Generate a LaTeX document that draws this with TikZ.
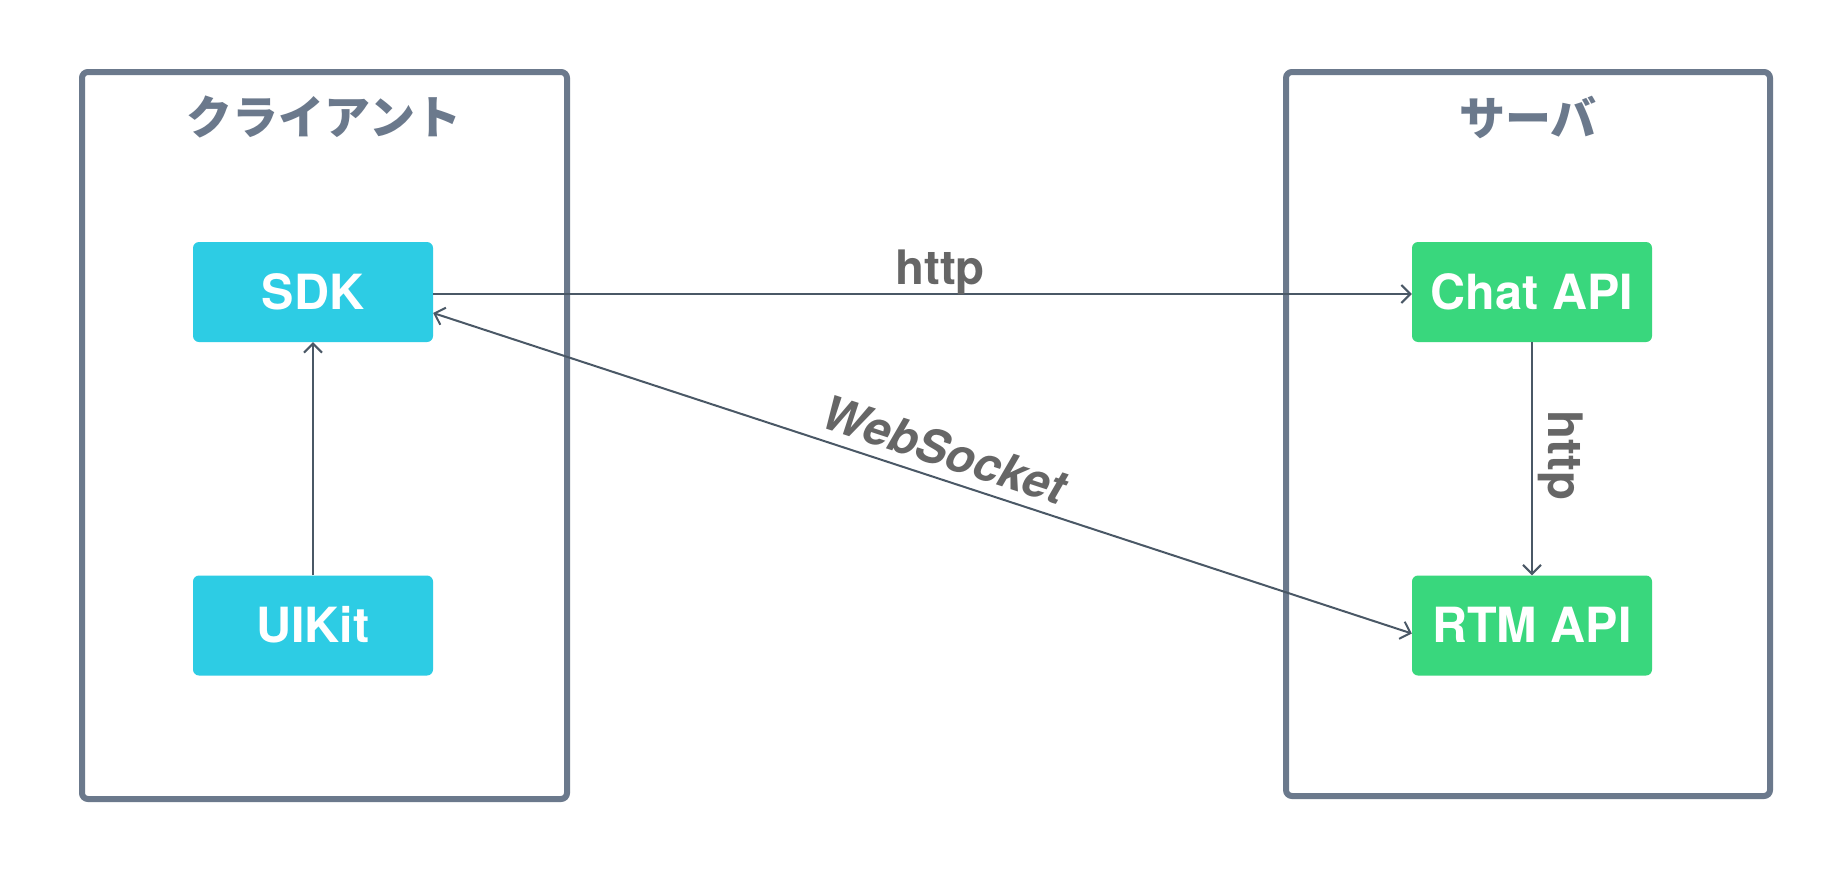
\documentclass[tikz,border=0pt]{standalone}
\usepackage{fontspec}
\setmainfont{TeX Gyre Heros}
\newfontfamily\jpfont{Noto Sans CJK JP}
\usetikzlibrary{arrows.meta,calc}
\definecolor{frame}{RGB}{107,121,140}
\definecolor{cyanbox}{RGB}{45,204,228}
\definecolor{greenbox}{RGB}{57,215,125}
\definecolor{lbl}{RGB}{102,102,102}
\definecolor{arrc}{RGB}{74,88,102}
\tikzset{
  container/.style={draw=frame, line width=6pt, rounded corners=6pt},
  title/.style={text=frame, font=\jpfont\bfseries\fontsize{46pt}{50pt}\selectfont, inner sep=0pt},
  compbox/.style={rounded corners=6pt, minimum width=240pt, minimum height=100pt,
    text=white, font=\bfseries\fontsize{48.5pt}{52pt}\selectfont,
    text height=34.8pt, text depth=0pt, inner sep=0pt},
  clientbox/.style={compbox, fill=cyanbox},
  serverbox/.style={compbox, fill=greenbox},
  arr/.style={draw=arrc, line width=2pt, arrows={-Straight Barb[length=9pt,width=18pt,line width=2pt]}},
  warr/.style={draw=arrc, line width=2pt, arrows={Straight Barb[length=9pt,width=18pt,line width=2pt]-Straight Barb[length=9pt,width=18pt,line width=2pt]}},
  conlbl/.style={text=lbl, font=\bfseries\fontsize{47.5pt}{52pt}\selectfont, text height=34pt, text depth=0pt, inner sep=0pt},
}
\begin{document}
\begin{tikzpicture}[x=1pt,y=-1pt]
\useasboundingbox[fill=white] (0,0) rectangle (1840,870);
% containers
\draw[container] (82,72) rectangle (567,799);
\draw[container] (1286,72) rectangle (1770,796);
\node[title] (clienttitle) at (324,117) {クライアント};
\node[title] (servertitle) at (1528,117) {サーバ};
% components
\node[clientbox] (sdk) at (313,292) {SDK};
\node[clientbox] (uikit) at (313,625.5) {UIKit};
\node[serverbox] (chat) at (1532,292) {Chat API};
\node[serverbox] (rtm) at (1532,625.5) {RTM API};
% connectors
\draw[arr] ([yshift=-2pt]sdk.east) -- node[conlbl, pos=0.518, anchor=south, yshift=9pt] (httplbl) {http} ([yshift=-2pt]chat.west);
\draw[arr] (uikit.north) -- (sdk.south);
\draw[arr] (chat.south) -- (rtm.north);
\draw[warr] ([yshift=-21pt]sdk.east) -- node[conlbl, pos=0.513, sloped, anchor=south, yshift=11pt, font=\bfseries\itshape\fontsize{47.5pt}{52pt}\selectfont] (wslbl) {WebSocket} ([yshift=-8pt]rtm.west);
\node[conlbl, rotate=-90, anchor=south] (http2lbl) at ($(chat.south)!0.487!(rtm.north)+(16,0)$) {http};
\end{tikzpicture}
\end{document}
